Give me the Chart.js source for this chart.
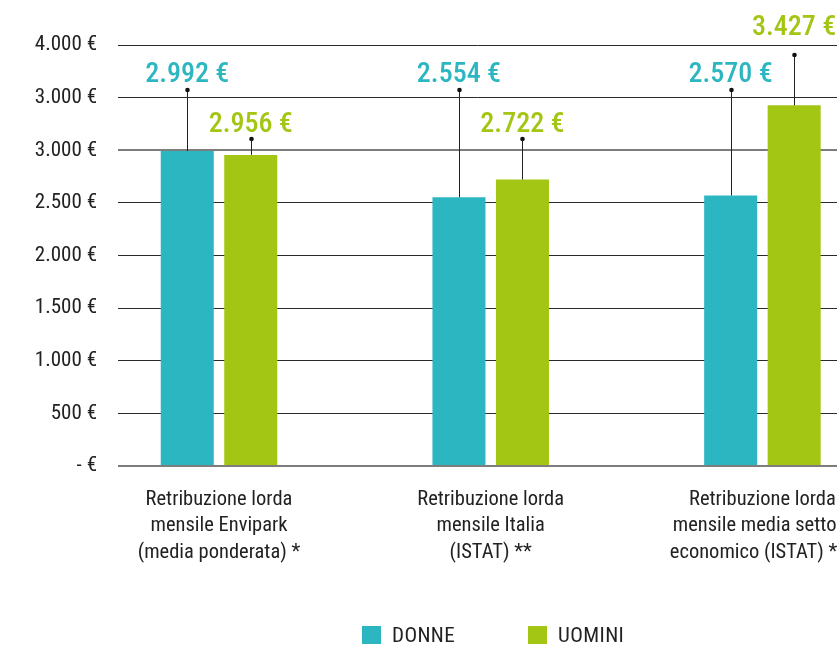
<!DOCTYPE html>
<html>
<head>
<meta charset="utf-8">
<script src="https://cdn.jsdelivr.net/npm/chart.js@4.4.1/dist/chart.umd.min.js"></script>
<style>
  html, body { margin: 0; padding: 0; background: #fff; overflow: hidden; }
  #wrap { position: relative; width: 837px; height: 647px; }
  canvas { position: absolute; left: 0; top: 0; }
  .legend { position: absolute; left: 0; top: 0; font-family: "Roboto Condensed", sans-serif; font-size: 21px; color: #222; letter-spacing: 0.4px; }
  .legend span.box { position: absolute; top: 626px; width: 19px; height: 18px; }
  .legend span.txt { position: absolute; top: 622px; white-space: nowrap; line-height: 26px; }
</style>
</head>
<body>
<div id="wrap">
  <canvas id="c" width="837" height="647"></canvas>
  <div class="legend" id="legend"></div>
</div>
<script>
// ---- data ----
const categories = [
  ["Retribuzione lorda", "mensile Envipark", "(media ponderata) *"],
  ["Retribuzione lorda", "mensile Italia", "(ISTAT) **"],
  ["Retribuzione lorda", "mensile media settore", "economico (ISTAT) ***"]
];
const seriesNames = ["DONNE", "UOMINI"];
const donne = [2992, 2554, 2570];
const uomini = [2956, 2722, 3427];
const yTickLabels = ["- €", "500 €", "1.000 €", "1.500 €", "2.000 €", "2.500 €", "3.000 €", "3.000 €", "4.000 €"];

// ---- styling / annotation placement (not data) ----
const colors = ["#2BB6C2", "#A3C513"];
const dotLevels = [[3572, 3572, 3572], [3107, 3107, 3905]];
const textLevels = [[3648, 3648, 3648], [3173, 3173, 4095]];
const FONT = '"Roboto Condensed", sans-serif';

function fmt(v) {
  return String(v).replace(/\B(?=(\d{3})+(?!\d))/g, ".") + " €";
}

const leaderPlugin = {
  id: "leaders",
  afterDatasetsDraw(chart) {
    const ctx = chart.ctx;
    const y = chart.scales.y;
    chart.data.datasets.forEach((ds, i) => {
      const meta = chart.getDatasetMeta(i);
      meta.data.forEach((bar, j) => {
        const x = Math.round(bar.x) + 0.5;
        const dotY = y.getPixelForValue(dotLevels[i][j]);
        const textY = y.getPixelForValue(textLevels[i][j]);
        ctx.save();
        ctx.strokeStyle = "#222";
        ctx.lineWidth = 1;
        ctx.beginPath();
        ctx.moveTo(x, bar.y);
        ctx.lineTo(x, dotY);
        ctx.stroke();
        ctx.fillStyle = "#111";
        ctx.beginPath();
        ctx.arc(x, dotY, 2.3, 0, Math.PI * 2);
        ctx.fill();
        ctx.fillStyle = colors[i];
        ctx.font = "500 28px " + FONT;
        ctx.textAlign = "center";
        ctx.textBaseline = "alphabetic";
        ctx.fillText(fmt(ds.data[j].y), bar.x, textY);
        ctx.restore();
      });
    });
  }
};

const xMin = -0.3717, xMax = 2.2745;

new Chart(document.getElementById("c"), {
  type: "bar",
  data: {
    datasets: [
      { label: seriesNames[0], data: donne.map((v, i) => ({ x: i, y: v })), backgroundColor: colors[0] },
      { label: seriesNames[1], data: uomini.map((v, i) => ({ x: i, y: v })), backgroundColor: colors[1] }
    ]
  },
  options: {
    responsive: false,
    animation: false,
    events: [],
    categoryPercentage: 0.4674,
    barPercentage: 0.835,
    layout: { padding: { top: 45, left: 0, right: 0, bottom: 0 } },
    plugins: { legend: { display: false }, tooltip: { enabled: false } },
    scales: {
      x: {
        type: "linear",
        offset: false,
        min: xMin,
        max: xMax,
        afterBuildTicks(scale) {
          scale.ticks = categories.map((c, i) => ({ value: i }));
        },
        afterFit(scale) {
          scale.height = 181;
          scale.paddingLeft = 0;
          scale.paddingRight = 0;
        },
        grid: { display: false, drawTicks: false, offset: false },
        border: { display: false },
        ticks: {
          autoSkip: false,
          maxRotation: 0,
          minRotation: 0,
          padding: 21,
          color: "#222",
          font: { family: FONT, size: 20.5, lineHeight: 1.28 },
          callback: (v) => categories[v]
        }
      },
      y: {
        min: 0,
        max: 4000,
        afterFit(scale) { scale.width = 118; },
        ticks: {
          stepSize: 500,
          padding: 21,
          color: "#222",
          font: { family: FONT, size: 21 },
          callback: (v, idx) => yTickLabels[idx]
        },
        grid: {
          drawTicks: false,
          color: (c) => (c.tick && (c.tick.value === 3000 || c.tick.value === 0)) ? "#7d7d7d" : "#2b2b2b",
          lineWidth: (c) => (c.tick && (c.tick.value === 3000 || c.tick.value === 0)) ? 2 : 1
        },
        border: { display: false }
      }
    }
  },
  plugins: [leaderPlugin]
});

// HTML legend
const legend = document.getElementById("legend");
const legendPos = [362, 528];
seriesNames.forEach((name, i) => {
  const b = document.createElement("span");
  b.className = "box";
  b.style.left = legendPos[i] + "px";
  b.style.background = colors[i];
  const t = document.createElement("span");
  t.className = "txt";
  t.style.left = (legendPos[i] + 30) + "px";
  t.textContent = name;
  legend.appendChild(b);
  legend.appendChild(t);
});
</script>
</body>
</html>
